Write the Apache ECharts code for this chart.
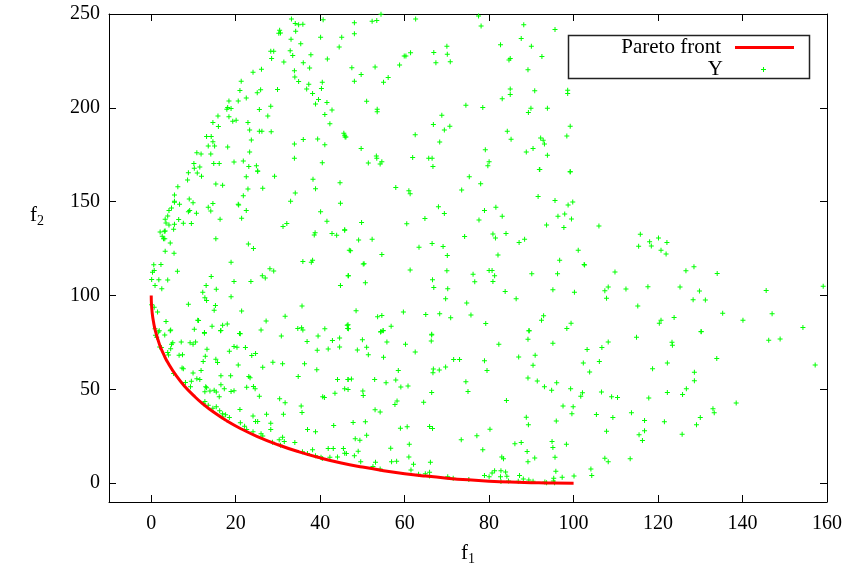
<!DOCTYPE html>
<html>
<head>
<meta charset="utf-8">
<script src="https://cdn.jsdelivr.net/npm/echarts@6/dist/echarts.min.js"></script>
<style>
html,body{margin:0;padding:0;background:#fff;}
#chart{width:849px;height:571px;}
</style>
</head>
<body>
<div id="chart"></div>
<script>
// Tick values
var xTicks = [0, 20, 40, 60, 80, 100, 120, 140, 160];
var yTicks = [0, 50, 100, 150, 200, 250];

// Pareto front
var paretoF1 = [0, 0.05, 0.25, 0.5, 1, 2, 3, 4, 6, 8, 10, 12, 15, 18, 21, 25, 30, 35, 40, 45, 50, 55, 60, 65, 70, 75, 80, 85, 90, 95, 100];
var paretoF2 = [100, 95.6, 90.3, 86.4, 81, 73.7, 68.4, 64, 57.0, 51.4, 46.8, 42.7, 37.5, 33.1, 29.3, 25, 20.5, 16.7, 13.5, 10.8, 8.6, 6.7, 5.1, 3.8, 2.7, 1.8, 1.1, 0.6, 0.3, 0.06, 0];

// Sampled objective vectors Y  [f1, f2]
var samplePoints = [
[33.2,247.4],[34.1,245.0],[34.9,244.3],[35.9,244.5],[40.7,247.0],[30.4,241.3],[30.2,239.7],[30.6,239.9],[34.2,240.8],[33.1,236.5],[40.1,237.6],[45.1,237.6],[35.4,234.2],[44.5,232.4],[28.3,230.1],[29.0,230.1],[32.9,230.4],[33.5,227.9],[37.8,228.3],[28.5,226.3],[31.4,224.4],[41.7,226.0],[36.0,224.0],[37.5,221.2],[33.9,219.8],[26.1,220.5],[24.1,218.9],[34.0,216.4],[34.9,214.1],[37.3,212.6],[40.5,213.7],[21.3,214.2],[21.0,209.3],[25.9,209.6],[25.1,208.0],[29.9,209.8],[36.8,210.0],[38.2,207.7],[40.3,210.3],[39.6,204.4],[38.9,202.0],[41.6,202.8],[18.4,203.7],[20.6,203.6],[22.5,205.2],[18.1,200.2],[18.9,199.6],[17.9,199.3],[25.6,199.1],[28.3,200.9],[42.8,198.9],[41.1,196.4],[15.8,195.7],[18.4,195.2],[27.6,195.7],[19.3,192.9],[20.1,193.4],[14.6,192.2],[15.9,190.0],[22.9,192.2],[42.3,191.5],[23.3,188.2],[25.6,187.5],[26.2,187.5],[28.4,187.2],[45.6,186.5],[45.9,184.5],[13.1,184.7],[14.2,184.7],[14.6,182.0],[13.5,179.7],[15.0,179.7],[23.7,182.9],[36.0,183.1],[39.4,183.4],[33.9,180.8],[41.1,180.4],[18.1,179.2],[10.8,176.1],[11.8,175.4],[14.1,175.4],[23.3,176.5],[10.1,170.4],[11.5,168.5],[10.2,167.8],[14.8,170.3],[16.1,170.3],[19.6,171.1],[21.8,171.7],[23.1,168.7],[24.9,169.2],[25.2,166.2],[8.8,165.4],[10.9,165.3],[33.9,173.1],[40.5,170.8],
[54.4,249.9],[48.1,245.4],[52.3,246.1],[53.4,246.5],[62.6,247.4],[77.5,249.0],[78.1,243.6],[48.1,239.5],[88.2,244.3],[95.6,241.8],[87.6,237.0],[82.7,233.6],[90.0,232.8],[70.0,232.8],[66.9,229.5],[70.1,228.5],[61.4,229.4],[59.9,227.6],[60.3,227.6],[92.5,227.4],[85.0,226.3],[84.7,225.5],[67.4,224.0],[70.8,224.6],[58.8,222.8],[47.5,221.4],[53.0,221.7],[49.7,217.8],[56.1,216.2],[55.0,213.7],[48.1,214.2],[89.2,220.3],[85.0,210.0],[85.0,207.1],[90.8,209.1],[98.6,209.4],[98.6,207.6],[83.1,204.8],[51.0,203.5],[53.5,199.3],[53.5,197.9],[74.5,201.4],[78.5,200.2],[89.9,199.8],[89.3,197.5],[93.8,199.8],[68.8,196.1],[66.8,191.1],[70.7,190.2],[69.4,188.2],[99.2,190.2],[45.8,185.4],[46.1,184.5],[62.5,185.7],[84.3,187.5],[85.2,183.3],[98.4,185.0],[92.2,184.0],[92.8,182.7],[93.1,180.8],[68.3,181.8],[49.7,178.3],[79.1,177.7],[88.8,176.5],[90.4,178.4],[93.8,174.7],[53.3,174.3],[53.4,173.1],[61.9,173.6],[65.7,173.1],[66.5,173.1],[66.7,168.8],[51.4,170.6],[54.2,170.1],[54.6,171.3],[80.0,171.3],[79.7,169.2],[92.0,167.2],[99.2,166.0],
[11.9,163.5],[25.2,166.3],[22.5,163.3],[29.2,163.6],[38.3,162.0],[6.3,157.9],[8.6,161.5],[15.3,159.4],[16.9,158.7],[22.9,156.7],[26.4,157.1],[44.7,160.1],[38.9,156.9],[5.5,153.5],[5.5,150.3],[5.5,149.7],[6.7,148.7],[9.0,151.5],[9.9,149.4],[34.1,154.6],[21.8,153.1],[20.6,148.7],[20.7,148.3],[33.0,150.3],[44.8,149.2],[13.5,147.1],[14.6,149.0],[14.1,145.1],[4.8,146.7],[4.2,145.3],[3.9,142.4],[8.8,144.6],[9.1,145.3],[10.7,143.9],[22.5,145.3],[40.1,144.6],[3.3,140.7],[6.5,140.5],[16.3,140.7],[21.4,141.2],[41.6,139.6],[3.5,138.7],[4.2,137.6],[5.5,138.0],[5.3,135.3],[7.6,138.5],[9.5,138.4],[31.2,136.8],[32.1,138.4],[45.8,134.8],[2.1,133.9],[3.1,134.3],[3.3,134.4],[2.6,131.6],[2.9,130.3],[3.2,130.2],[38.8,133.4],[38.6,132.3],[42.8,133.0],[43.9,132.1],[15.3,130.3],[4.5,128.0],[23.0,127.5],[24.2,125.0],[3.3,123.6],[5.4,122.5],[46.9,124.1],[18.9,117.7],[35.9,118.1],[37.9,117.7],[38.2,118.8],[0.6,116.4],[2.3,116.6],[0.3,112.4],[0.7,113.4],[0.1,108.6],[1.8,108.4],[3.9,108.3],[6.2,112.9],[28.1,114.3],[29.0,113.1],[14.2,110.2],[26.3,110.6],[27.0,109.3],[19.6,107.5],[23.6,107.5],[46.6,110.6],[0.9,105.4],[2.5,103.6],[13.0,105.4],[15.4,103.3],[12.2,101.7],[12.7,98.8],[13.1,97.4],[18.9,99.4],[44.8,105.4],[8.8,95.4],[15.2,94.7],[14.9,92.1],[21.4,91.7],[35.7,94.4],[31.7,89.0],[0.1,95.1],[0.7,93.7],[1.5,91.2],[11.0,86.9],[11.2,86.7],[3.5,86.2],[4.6,81.6],[10.2,82.1],[14.4,83.7],[16.5,81.4],[16.9,84.2],[18.0,84.8],[27.2,86.4],[20.9,79.8],[34.7,82.4],[35.6,82.8],[41.1,82.3],[46.4,84.2],[46.5,82.4],[12.6,80.3],[1.7,80.6],[0.9,82.3],
[91.9,167.2],[99.2,165.9],[75.3,163.3],[78.0,159.5],[57.9,157.6],[61.0,155.8],[61.3,154.2],[73.5,156.2],[91.6,152.8],[95.6,150.6],[98.7,148.3],[99.8,149.9],[68.0,147.3],[69.4,143.7],[78.9,145.3],[81.6,147.1],[83.1,142.3],[77.6,140.3],[64.8,141.0],[60.5,138.2],[49.8,138.9],[45.8,135.1],[96.3,142.3],[97.9,143.5],[99.5,140.8],[97.7,136.2],[93.6,137.6],[80.9,132.8],[81.5,130.7],[84.0,133.0],[87.1,128.2],[88.4,130.0],[74.2,131.4],[49.1,129.6],[52.3,130.0],[47.2,123.8],[54.6,121.8],[63.4,125.7],[66.5,127.7],[69.1,126.1],[70.1,121.3],[101.1,124.1],[96.7,118.8],[102.5,116.6],[82.1,121.6],[50.2,116.8],[50.4,117.0],[61.3,113.6],[70.0,113.2],[80.0,113.4],[80.7,113.4],[81.3,110.6],[80.9,107.5],[76.2,111.3],[76.6,107.4],[90.1,111.6],[96.2,111.6],[46.7,110.6],[50.7,106.8],[66.6,108.4],[66.9,104.3],[70.2,103.6],[69.7,98.3],[74.7,96.0],[83.8,102.2],[86.4,98.3],[95.1,103.1],[100.2,101.7],[48.5,91.9],[53.6,88.7],[54.6,89.4],[59.7,91.2],[65.0,89.9],[68.3,90.3],[70.9,88.1],[75.7,89.6],[92.9,89.2],[92.4,86.9],[79.2,85.1],[99.4,85.3],[98.4,82.4],[89.5,81.2],[56.8,83.7],[54.4,80.8],[54.9,81.4],[46.6,84.4],[46.7,82.3],[66.4,79.4],
[106.0,137.1],[115.8,132.7],[118.0,128.6],[120.1,130.7],[118.4,126.4],[115.4,126.2],[122.1,128.2],[120.7,124.1],[121.9,122.1],[102.6,116.3],[109.8,112.5],[126.6,113.2],[128.5,115.4],[134.0,111.8],[108.2,104.5],[107.4,102.6],[112.4,103.5],[117.6,104.7],[125.2,104.5],[129.8,102.4],[107.8,98.6],[128.3,97.8],[131.2,97.6],[115.2,94.4],[135.3,90.5],[145.6,102.7],[147.0,90.3],[140.1,86.9],[123.8,88.3],[120.7,86.9],[120.3,85.3],[130.2,80.7],[154.3,83.0],[159.1,104.9],
[1.9,81.2],[4.5,81.3],[12.6,79.9],[16.4,81.2],[21.1,79.6],[26.0,81.7],[30.8,78.5],[35.9,81.7],[39.5,78.5],[44.6,77.4],[1.0,78.9],[3.2,79.0],[5.1,74.9],[4.8,74.0],[7.1,75.3],[9.2,74.9],[9.9,74.0],[10.5,75.3],[13.2,71.4],[18.5,70.3],[19.6,72.8],[20.3,72.4],[22.3,72.3],[2.0,72.6],[2.4,72.3],[3.9,69.6],[4.6,71.7],[6.6,68.2],[7.4,68.5],[12.8,67.6],[12.3,64.8],[15.3,66.0],[15.7,64.3],[23.8,68.0],[24.7,69.1],[36.9,75.5],[39.3,70.8],[41.9,71.5],[42.9,76.0],[44.6,72.6],[20.6,63.0],[26.4,61.8],[28.8,64.4],[31.1,63.7],[36.3,63.7],[39.2,60.5],[7.3,61.4],[7.6,61.0],[9.9,58.7],[11.8,60.1],[5.3,58.5],[8.1,53.7],[9.5,54.3],[9.3,51.4],[10.8,55.7],[11.5,55.2],[16.5,57.3],[18.8,57.3],[23.1,56.8],[23.4,56.2],[34.8,56.8],[44.1,55.3],[46.6,55.3],[12.9,51.4],[13.1,50.9],[12.7,48.8],[13.9,49.1],[14.9,49.5],[15.4,48.6],[16.5,52.5],[17.3,50.4],[16.1,46.1],[18.9,48.9],[19.6,49.3],[22.6,51.1],[24.2,51.6],[24.6,50.4],[25.6,46.4],[30.4,45.0],[31.7,42.9],[35.5,41.1],[35.7,37.7],[31.3,36.8],[40.6,46.1],[41.0,45.7],[43.5,48.0],[46.6,50.0],[12.7,43.6],[12.4,42.3],[13.5,41.5],[14.6,40.0],[15.4,40.7],[16.2,38.6],[16.9,37.0],[17.6,36.5],[16.8,35.4],[21.0,39.3],[18.5,35.0],[24.1,35.8],[24.7,32.9],[25.2,32.9],[27.3,36.8],[28.3,32.0],[21.1,32.2],[22.1,30.4],[22.6,28.6],[24.1,27.4],[26.0,26.3],[26.4,25.1],[28.3,28.6],[28.7,21.9],[30.3,23.1],[31.5,22.2],[31.1,24.5],[34.0,21.7],[30.6,20.2],[37.0,28.6],[38.9,27.4],[43.2,30.8],[38.2,17.9],[35.8,16.8],[37.0,15.9],[38.9,14.6],[41.9,18.5],[43.1,18.5],[45.5,18.5],[46.2,15.8],[42.3,13.9],[40.2,13.9],[44.1,14.0],[40.5,13.2],[4.1,68.3],[1.3,77.8],
[54.3,80.6],[54.9,81.2],[66.4,79.0],[66.3,75.8],[50.0,76.5],[55.8,75.3],[60.2,74.0],[48.8,71.0],[51.0,72.4],[51.4,68.5],[55.0,67.1],[62.5,69.9],[45.8,50.4],[46.6,55.2],[47.4,55.5],[52.9,55.3],[55.6,53.6],[57.9,55.0],[58.5,60.0],[59.1,51.3],[60.8,51.8],[50.1,49.1],[50.2,46.8],[66.8,60.9],[66.7,58.9],[68.2,60.3],[69.7,61.9],[71.6,65.9],[73.0,65.9],[66.4,48.4],[64.5,43.1],[57.7,42.0],[58.2,43.8],[53.0,39.1],[54.2,37.9],[47.8,32.4],[50.7,32.7],[48.3,23.7],[49.4,22.9],[51.0,25.6],[59.0,29.3],[60.6,30.1],[65.9,30.2],[66.6,29.2],[73.4,23.1],[77.1,25.3],[80.2,28.8],[78.5,17.8],[56.7,18.7],[61.1,20.8],[49.0,17.1],[48.1,14.7],[49.6,11.5],[61.0,14.0],[56.9,11.5],[58.1,11.7],[45.8,16.0],[53.1,11.2],[52.5,8.9],[54.2,7.6],[62.1,10.1],[61.5,7.1],[63.3,4.8],[64.9,5.1],[65.9,5.8],[66.1,11.2],[65.9,3.9],[70.2,3.4],[71.5,2.6],[75.2,2.0],[78.9,4.1],[80.0,3.4],[80.7,5.5],[81.3,6.7],[82.8,6.6],[83.9,6.0],[82.7,3.4],[84.2,3.7],[84.6,1.2],[82.8,0.9],[83.0,14.0],[83.4,13.1],[84.1,44.1],[82.3,74.0],[78.9,65.3],[79.5,60.0],[74.5,54.1],[75.0,48.9],[87.0,67.3],[90.9,68.2],[90.4,62.8],[89.2,76.7],[89.4,81.2],[95.1,74.6],[89.2,56.1],[91.4,54.5],[93.1,51.4],[96.0,53.6],[94.8,49.6],[99.3,50.4],[102.3,64.1],[102.1,48.2],[101.7,46.3],[97.5,41.1],[99.9,40.7],[99.6,37.0],[88.8,35.1],[89.3,31.1],[95.9,33.1],[86.1,21.0],[87.6,21.7],[94.9,22.2],[95.1,19.0],[95.6,13.9],[98.3,20.8],[89.0,16.9],[89.2,11.4],[90.8,13.5],[95.8,6.4],[95.3,2.6],[95.5,0.3],[93.2,0.7],[93.6,0.3],[97.3,3.2],[100.1,3.9],[87.2,4.1],[88.1,2.3],[89.4,1.7],[90.4,1.0],[86.9,1.0],[95.2,1.2],
[114.9,77.8],[123.3,75.1],[123.4,73.5],[130.2,80.8],[108.2,75.3],[106.7,72.3],[103.2,71.2],[106.1,64.8],[103.8,59.3],[118.7,61.0],[122.2,64.1],[133.9,66.4],[128.6,59.1],[128.6,54.6],[126.7,50.4],[125.8,47.3],[122.2,48.4],[117.8,45.4],[110.4,45.7],[109.0,46.1],[106.6,48.6],[146.2,76.2],[148.9,76.9],[157.2,63.0],[138.5,42.7],[133.0,39.7],[133.3,37.5],[130.0,35.0],[129.1,31.1],[125.7,26.1],[121.5,32.7],[116.8,33.4],[116.8,27.9],[115.5,25.8],[116.3,22.8],[113.7,37.5],[109.3,35.0],[105.4,36.6],[107.8,27.7],[107.4,13.3],[108.2,11.5],[113.4,13.1],[104.1,7.6],[104.3,4.1]
];

var plusPath = 'path://M2,0h1v2h2v1h-2v2h-1v-2h-2v-1h2z';
var FONT = '"Liberation Serif", "DejaVu Serif", serif';

var paretoData = paretoF1.map(function (x, i) { return [x, paretoF2[i]]; });

var chart = echarts.init(document.getElementById('chart'), null, {renderer: 'canvas'});

function xAxisBase(pos, showLabel) {
  return {
    type: 'value', position: pos, min: -10, max: 160,
    splitLine: {show: false},
    axisLine: {show: true, onZero: false, lineStyle: {color: '#000', width: 1}},
    axisTick: {show: true, inside: true, length: 7, customValues: xTicks, lineStyle: {color: '#000'}},
    axisLabel: {show: showLabel, customValues: xTicks, margin: 12, color: '#000', fontFamily: FONT, fontSize: 20}
  };
}
function yAxisBase(pos, showLabel) {
  return {
    type: 'value', position: pos, min: -10, max: 250,
    splitLine: {show: false},
    axisLine: {show: true, onZero: false, lineStyle: {color: '#000', width: 1}},
    axisTick: {show: true, inside: true, length: 7, customValues: yTicks, lineStyle: {color: '#000'}},
    axisLabel: {show: showLabel, customValues: yTicks, margin: 9, color: '#000', fontFamily: FONT, fontSize: 20}
  };
}

var xBottom = xAxisBase('bottom', true);
xBottom.name = '{a|f}{b|1}';
xBottom.nameLocation = 'middle';
xBottom.nameGap = 38;
xBottom.nameTextStyle = {
  fontFamily: FONT, color: '#000',
  rich: {a: {fontFamily: FONT, fontSize: 21, color: '#000'},
         b: {fontFamily: FONT, fontSize: 14, color: '#000', verticalAlign: 'bottom', padding: [12, 0, 0, 0]}}
};
var xTop = xAxisBase('top', false);

var yLeft = yAxisBase('left', true);
yLeft.name = '{a|f}{b|2}';
yLeft.nameLocation = 'middle';
yLeft.nameRotate = 0;
yLeft.nameGap = 72;
yLeft.nameTextStyle = {
  fontFamily: FONT, color: '#000', align: 'center', verticalAlign: 'middle', padding: [0, 0, 86, 0],
  rich: {a: {fontFamily: FONT, fontSize: 21, color: '#000'},
         b: {fontFamily: FONT, fontSize: 14, color: '#000', verticalAlign: 'bottom', padding: [12, 0, 0, 0]}}
};
var yRight = yAxisBase('right', false);

chart.setOption({
  animation: false,
  backgroundColor: '#fff',
  grid: {left: 109, right: 22, top: 14, bottom: 69, containLabel: false, outerBoundsMode: 'none'},
  xAxis: [xBottom, xTop],
  yAxis: [yLeft, yRight],
  legend: [
    {
      data: [{name: 'Pareto front', icon: 'rect'}],
      right: 50, top: 32, align: 'right', orient: 'vertical',
      itemWidth: 59, itemHeight: 3,
      itemStyle: {color: '#ff0000'},
      textStyle: {fontFamily: FONT, fontSize: 21, color: '#000', padding: [0, 9, 0, 0]},
      selectedMode: false
    },
    {
      data: [{name: 'Y', icon: plusPath}],
      right: 78, top: 54, align: 'right', orient: 'vertical',
      itemWidth: 5, itemHeight: 5,
      itemStyle: {color: '#00ff00'},
      textStyle: {fontFamily: FONT, fontSize: 21, color: '#000', padding: [0, 33, 0, 0]},
      selectedMode: false
    }
  ],
  graphic: [{
    type: 'rect', left: 566, top: 33, z: 100, silent: true,
    shape: {width: 241, height: 43},
    style: {fill: 'none', stroke: '#222', lineWidth: 1.5}
  }],
  series: [
    {
      name: 'Y', type: 'scatter', xAxisIndex: 0, yAxisIndex: 0,
      data: samplePoints, symbol: plusPath, symbolSize: 5,
      itemStyle: {color: '#00ff00', opacity: 1},
      emphasis: {disabled: true}, z: 2
    },
    {
      name: 'Pareto front', type: 'line', xAxisIndex: 0, yAxisIndex: 0,
      data: paretoData, showSymbol: false, smooth: true,
      lineStyle: {color: '#ff0000', width: 3},
      itemStyle: {color: '#ff0000'},
      emphasis: {disabled: true}, z: 3
    }
  ]
});
</script>
</body>
</html>
